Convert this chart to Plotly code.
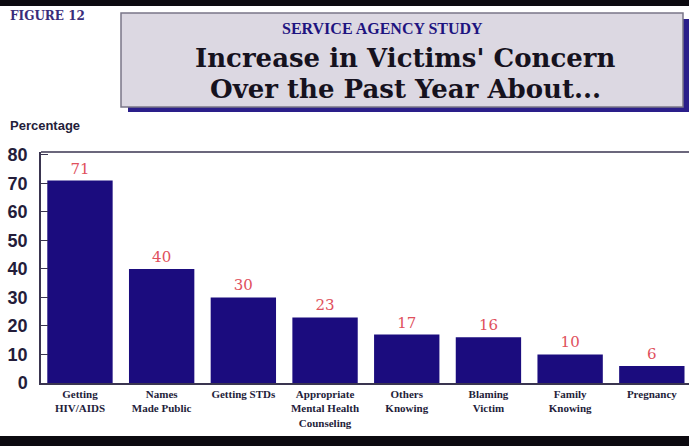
import plotly.graph_objects as go

categories = ["Getting<br>HIV/AIDS", "Names<br>Made Public", "Getting STDs",
              "Appropriate<br>Mental Health<br>Counseling", "Others<br>Knowing",
              "Blaming<br>Victim", "Family<br>Knowing", "Pregnancy"]
values = [71, 40, 30, 23, 17, 16, 10, 6]
y_ticks = [0, 10, 20, 30, 40, 50, 60, 70, 80]

W, H = 689, 446
L, R, T, B = 41, 0, 152, 63
PW, PH = W - L - R, H - T - B

def px(x):
    return (x - L) / PW

def py(y):
    return (H - B - y) / PH

NAVY = "#1b0c7e"
TXT = "#241d3a"
RED = "#e0505c"

fig = go.Figure(go.Bar(
    x=list(range(len(categories))), y=values, width=0.8,
    marker=dict(color=NAVY, line=dict(width=0)),
    text=[str(v) for v in values], textposition="outside",
    textfont=dict(family="DejaVu Serif", size=15, color=RED),
    cliponaxis=False,
))

shapes = [
    dict(type="rect", xref="paper", yref="paper", x0=px(0), x1=px(W), y0=py(0), y1=py(6),
         fillcolor="#0c0a10", line=dict(width=0)),
    dict(type="rect", xref="paper", yref="paper", x0=px(0), x1=px(W), y0=py(436), y1=py(446),
         fillcolor="#0c0a10", line=dict(width=0)),
    dict(type="rect", xref="paper", yref="paper", x0=px(128), x1=px(689), y0=py(19), y1=py(112),
         fillcolor="#2a1e8a", line=dict(width=0)),
    dict(type="rect", xref="paper", yref="paper", x0=px(121), x1=px(683), y0=py(13), y1=py(107),
         fillcolor="#dcd8e2", line=dict(color="#7a7688", width=1.5)),
    dict(type="line", xref="paper", yref="paper", x0=0, x1=1, y0=1, y1=1,
         line=dict(color="#3a3550", width=1.5)),
]

annotations = [
    dict(text="<b>FIGURE 12</b>", xref="paper", yref="paper", x=px(8), y=py(16),
         xanchor="left", yanchor="middle", showarrow=False,
         font=dict(family="DejaVu Serif", size=12, color="#3a2c7a")),
    dict(text="<b>SERVICE AGENCY STUDY</b>", xref="paper", yref="paper", x=px(382), y=py(28),
         xanchor="center", yanchor="middle", showarrow=False,
         font=dict(family="Liberation Serif", size=16, color="#1e1480")),
    dict(text="<b>Increase in Victims' Concern</b>", xref="paper", yref="paper", x=px(405), y=py(58),
         xanchor="center", yanchor="middle", showarrow=False,
         font=dict(family="DejaVu Serif", size=26, color="#16121e")),
    dict(text="<b>Over the Past Year About...</b>", xref="paper", yref="paper", x=px(405), y=py(89),
         xanchor="center", yanchor="middle", showarrow=False,
         font=dict(family="DejaVu Serif", size=26, color="#16121e")),
    dict(text="<b>Percentage</b>", xref="paper", yref="paper", x=px(8), y=py(125),
         xanchor="left", yanchor="middle", showarrow=False,
         font=dict(family="Liberation Sans", size=13, color=TXT)),
]

fig.update_layout(
    width=W, height=H, margin=dict(l=L, r=R, t=T, b=B, autoexpand=False),
    paper_bgcolor="white", plot_bgcolor="white", showlegend=False,
    shapes=shapes, annotations=annotations,
    bargap=0.2,
)
fig.update_xaxes(
    range=[-0.477, 7.455], tickvals=list(range(len(categories))),
    ticktext=["<b>" + c + "</b>" for c in categories],
    showline=True, linecolor="#3a3550", linewidth=1.5, ticks="", showgrid=False,
    zeroline=False, tickangle=0,
    tickfont=dict(family="Liberation Serif", size=11, color=TXT),
)
fig.update_yaxes(
    range=[0, 81], tickvals=y_ticks, ticktext=["<b>%d</b>" % t for t in y_ticks],
    showline=True, linecolor="#3a3550", linewidth=1.5, ticks="inside", ticklen=7,
    tickcolor="#3a3550", tickwidth=1.2, showgrid=False, zeroline=False,
    tickfont=dict(family="Liberation Sans", size=18, color=TXT),
    ticklabelstandoff=8,
)

fig.write_html("out.html", config={"displayModeBar": False},
               post_script="document.body.style.margin='0';document.body.style.overflow='hidden';")
